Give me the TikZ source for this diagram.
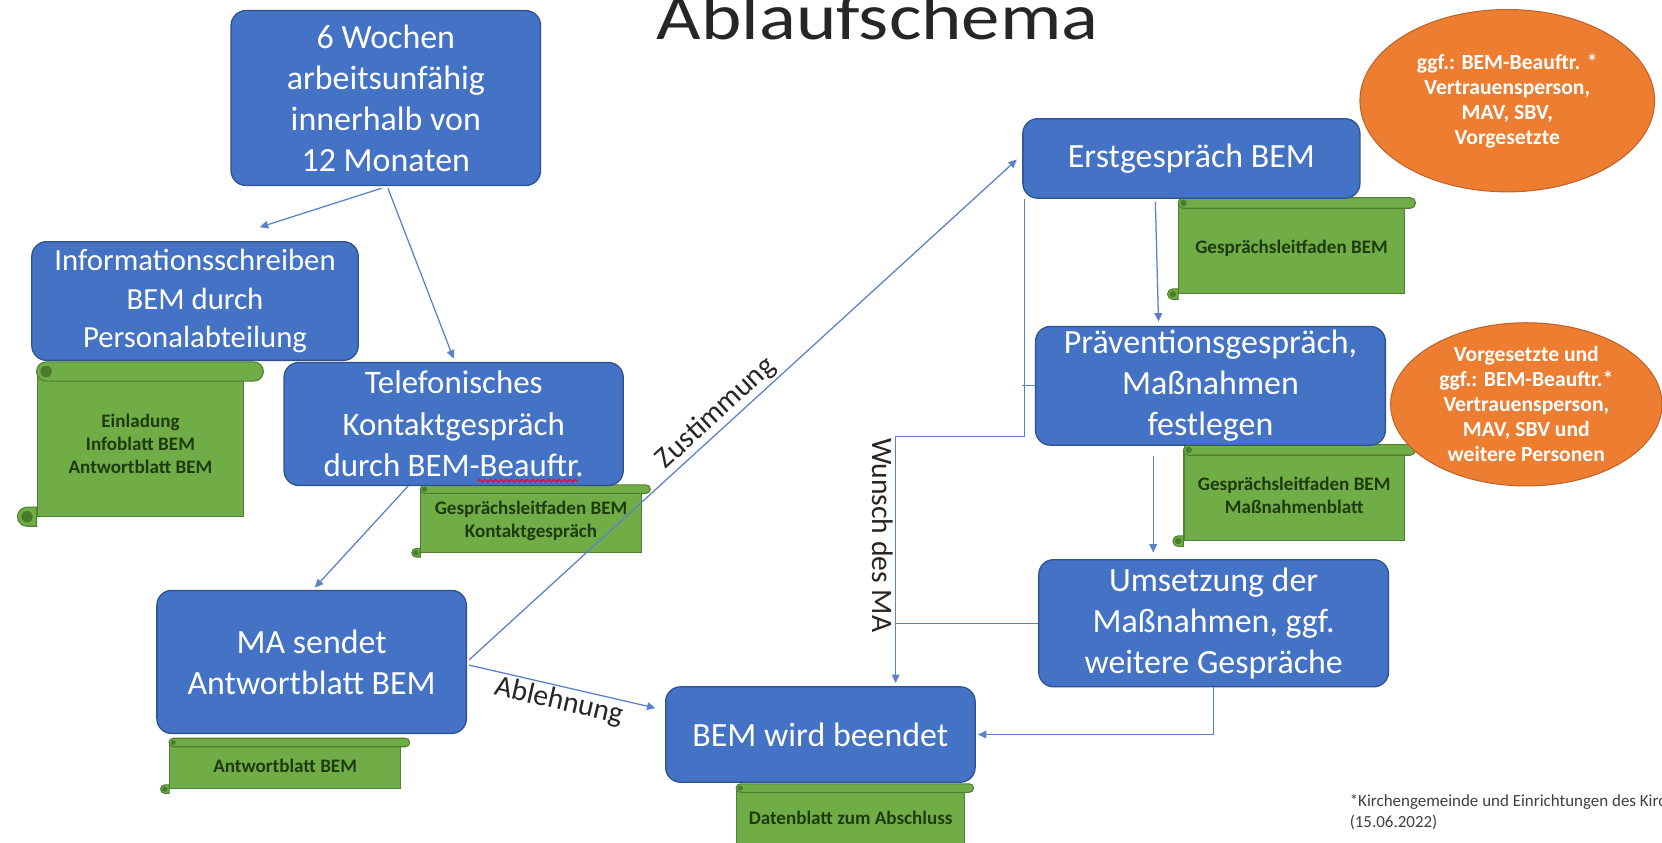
\documentclass[tikz,border=0pt]{standalone}
\usepackage{fontspec}
\setmainfont{Carlito}
\usepackage{graphicx}
\usetikzlibrary{shapes.geometric, arrows.meta, decorations.pathmorphing}

\definecolor{boxblue}{HTML}{4472C4}
\definecolor{boxedge}{HTML}{2F528F}
\definecolor{scrollgreen}{HTML}{70AD47}
\definecolor{scrolledge}{HTML}{507E32}
\definecolor{rollshade}{HTML}{4A7A2C}
\definecolor{scrolltext}{HTML}{1E3A0E}
\definecolor{ovalorange}{HTML}{ED7D31}
\definecolor{ovaledge}{HTML}{C0622A}
\definecolor{linkblue}{HTML}{5B82C9}

\tikzstyle{box} = [rectangle, rounded corners=7pt, fill=boxblue, draw=boxedge, line width=0.6pt, text=white, align=center, inner sep=1pt, font=\fontsize{16}{19.3}\selectfont]
\tikzstyle{oval} = [ellipse, fill=ovalorange, draw=ovaledge, line width=0.5pt, text=white, align=center, inner sep=0pt, font=\fontsize{10.2}{11.8}\selectfont\bfseries]
\tikzstyle{scroll} = [rectangle, fill=scrollgreen, draw=scrolledge, line width=0.5pt, text=scrolltext, align=center, inner sep=0pt, font=\fontsize{9}{10.8}\selectfont\bfseries]
\tikzstyle{roll} = [fill=scrollgreen, draw=scrolledge, line width=0.5pt]
\tikzstyle{link} = [draw=linkblue, line width=0.6pt]
\tikzstyle{pfeil} = [link, -{Triangle[length=4pt, width=3.6pt]}]
\tikzstyle{lbl} = [font=\fontsize{14}{16}\selectfont, text=black!85, inner sep=1pt]

% rolled edges of a scroll node: #1 node, #2 half thickness
\newcommand{\rollen}[2]{%
	\draw[roll, rounded corners=#2] ([yshift=#2]#1.north west) rectangle ([xshift=2*#2, yshift=-#2]#1.north east);
	\fill[rollshade] ([xshift=#2]#1.north west) circle [radius=0.6*#2];
	\filldraw[roll] ([yshift=#2]#1.south west) -- ([xshift=-#2, yshift=#2]#1.south west) arc [start angle=90, end angle=270, radius=#2] -- ([yshift=-#2]#1.south west) -- cycle;
	\fill[rollshade] ([xshift=-#2]#1.south west) circle [radius=0.6*#2];
}

\begin{document}
\begin{tikzpicture}[x=0.5pt, y=-0.5pt]
\useasboundingbox (0,0) rectangle (1568,795);
\clip (0,0) rectangle (1568,795);

% title
\node[anchor=base, font=\fontsize{31}{36}\selectfont, text=black!85] (titel) at (828,37) {\scalebox{1.17}[1]{Ablaufschema}};

% documents
\node[scroll, minimum width=97.5pt, minimum height=68pt] (einl) at (132.5,419) {Einladung\\Infoblatt BEM\\Antwortblatt BEM};
\rollen{einl}{4.5pt}
\node[scroll, minimum width=104pt, minimum height=29.5pt] (kontakt) at (501,491.5) {Gesprächsleitfaden BEM\\Kontaktgespräch};
\rollen{kontakt}{2pt}
\node[scroll, minimum width=109pt, minimum height=21.5pt] (antwort) at (269,722.5) {Antwortblatt BEM};
\rollen{antwort}{2pt}
\node[scroll, minimum width=107.5pt, minimum height=28pt] (daten) at (802.5,772) {Datenblatt zum Abschluss};
\rollen{daten}{2pt}
\node[scroll, minimum width=106.5pt, minimum height=42.5pt] (leitf1) at (1218.5,234.5) {Gesprächsleitfaden BEM};
\rollen{leitf1}{2.5pt}
\node[scroll, minimum width=104pt, minimum height=42.5pt] (leitf2) at (1221,467.5) {Gesprächsleitfaden BEM\\Maßnahmenblatt};
\rollen{leitf2}{2.5pt}

% steps
\node[box, minimum width=146pt, minimum height=82.5pt] (wochen) at (364,92.5) {6 Wochen\\arbeitsunfähig\\innerhalb von\\12 Monaten};
\node[box, minimum width=154pt, minimum height=56pt, font=\fontsize{14.5}{18}\selectfont] (info) at (184,284) {Informationsschreiben\\BEM durch\\Personalabteilung};
\node[box, minimum width=160pt, minimum height=58pt, font=\fontsize{15.5}{19.5}\selectfont] (tele) at (428,400) {Telefonisches\\Kontaktgespräch\\durch BEM-Beauftr.};
\node[box, minimum width=146pt, minimum height=67.5pt] (ma) at (294,624.5) {MA sendet\\Antwortblatt BEM};
\node[box, minimum width=146pt, minimum height=45pt] (beendet) at (774,693) {BEM wird beendet};
\node[box, minimum width=159pt, minimum height=37.5pt] (erst) at (1124,149.5) {Erstgespräch BEM};
\node[box, minimum width=165pt, minimum height=56pt] (prae) at (1142,364) {Präventionsgespräch,\\Maßnahmen\\festlegen};
\node[box, minimum width=165pt, minimum height=60pt] (ums) at (1145,588) {Umsetzung der\\Maßnahmen, ggf.\\weitere Gespräche};
\draw[red, line width=0.5pt, decorate, decoration={snake, amplitude=0.6pt, segment length=2.5pt}] ([shift={(23,-5)}]tele.south) -- ([shift={(117,-5)}]tele.south);

% participants
\node[oval, minimum width=139pt, minimum height=86pt] (teiln1) at (1422,95) {ggf.: BEM-Beauftr. *\\Vertrauensperson,\\MAV, SBV,\\Vorgesetzte};
\node[oval, minimum width=128pt, minimum height=76.5pt] (teiln2) at (1440,381.5) {Vorgesetzte und\\ggf.: BEM-Beauftr.*\\Vertrauensperson,\\MAV, SBV und\\weitere Personen};

% connectors
\draw[pfeil] ([shift={(-4,2)}]wochen.south) -- ([shift={(61,-13)}]info.north);
\draw[pfeil] ([shift={(2,2)}]wochen.south) -- ([shift={(0,-3)}]tele.north);
\draw[pfeil] ([shift={(-43,0)}]tele.south) -- ([shift={(3,-2)}]ma.north);
\draw[pfeil] ([shift={(2,-2)}]ma.east) -- node[lbl, sloped, above, pos=0.47] {Zustimmung} ([shift={(-5,1)}]erst.west);
\draw[pfeil] ([shift={(2,3)}]ma.east) -- node[lbl, sloped, below, pos=0.5] {Ablehnung} ([shift={(-9,-25)}]beendet.west);
\draw[pfeil] ([shift={(-34,3)}]erst.south) -- ([shift={(-49,-4)}]prae.north);
\draw[pfeil] ([shift={(-54,10)}]prae.south) -- ([shift={(-57,-6)}]ums.north);
\draw[pfeil] (ums.south) |- ([xshift=1pt]beendet.east);
\coordinate (knick) at (845,412);
\draw[pfeil] ([xshift=1pt]erst.south west) |- (knick) -- node[lbl, rotate=-90, anchor=north, pos=0.4] {Wunsch des MA} ([shift={(71,-3)}]beendet.north);
\draw[link] (prae.west) -- (prae.west -| erst.south west);
\draw[link] (ums.west) -- (ums.west -| knick);

% footnote
\node[anchor=north west, align=left, font=\fontsize{8}{9.8}\selectfont, text=black!75, inner sep=0pt] (fuss) at (1273,749) {*Kirchengemeinde und Einrichtungen des Kirchenkreises\\(15.06.2022)};
\end{tikzpicture}
\end{document}
